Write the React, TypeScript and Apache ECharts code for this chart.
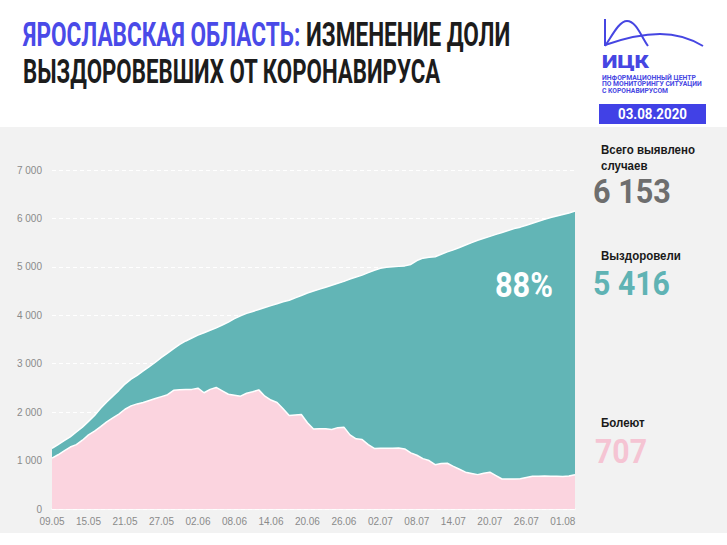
import React, { useEffect, useRef } from "react";
import * as echarts from "echarts";

const dates = [
  "09.05","10.05","11.05","12.05","13.05","14.05","15.05","16.05","17.05","18.05","19.05","20.05",
  "21.05","22.05","23.05","24.05","25.05","26.05","27.05","28.05","29.05","30.05","31.05",
  "01.06","02.06","03.06","04.06","05.06","06.06","07.06","08.06","09.06","10.06","11.06","12.06",
  "13.06","14.06","15.06","16.06","17.06","18.06","19.06","20.06","21.06","22.06","23.06","24.06",
  "25.06","26.06","27.06","28.06","29.06","30.06",
  "01.07","02.07","03.07","04.07","05.07","06.07","07.07","08.07","09.07","10.07","11.07","12.07",
  "13.07","14.07","15.07","16.07","17.07","18.07","19.07","20.07","21.07","22.07","23.07","24.07",
  "25.07","26.07","27.07","28.07","29.07","30.07","31.07",
  "01.08","02.08","03.08"
];

// Всего выявлено случаев (верхняя граница бирюзовой области)
const totalCases = [
  1250, 1330, 1410, 1490, 1590, 1690, 1810, 1930, 2080, 2210, 2330, 2450,
  2580, 2680, 2760, 2850, 2940, 3030, 3130, 3220, 3310, 3400, 3470, 3530,
  3590, 3640, 3690, 3740, 3800, 3860, 3930, 3990, 4040, 4080, 4120, 4160,
  4200, 4240, 4280, 4310, 4360, 4410, 4460, 4500, 4540, 4580, 4620, 4660,
  4700, 4750, 4790, 4830, 4880, 4930, 4970, 4990, 5000, 5010, 5020, 5050,
  5130, 5180, 5200, 5210, 5260, 5310, 5350, 5400, 5450, 5500, 5550, 5590,
  5630, 5670, 5710, 5750, 5790, 5820, 5860, 5900, 5940, 5980, 6020, 6050,
  6080, 6110, 6153
];

// Болеют (розовая область)
const activeCases = [
  1050, 1120, 1200, 1280, 1330, 1420, 1530, 1610, 1700, 1800, 1880, 1960,
  2060, 2130, 2170, 2200, 2240, 2280, 2320, 2360, 2450, 2460, 2465, 2470,
  2495, 2400, 2470, 2510, 2440, 2370, 2350, 2330, 2390, 2420, 2460, 2330,
  2250, 2200, 2070, 1930, 1940, 1950, 1780, 1650, 1655, 1655, 1640, 1680,
  1690, 1530, 1450, 1435, 1330, 1250, 1255, 1255, 1255, 1260, 1240, 1160,
  1110, 1040, 1000, 915, 940, 945, 880, 820, 760, 735, 710, 740,
  760, 690, 620, 620, 620, 625, 650, 675, 675, 680, 675, 675,
  670, 680, 707
];

const summaryLabels = ["Всего выявлено", "случаев", "Выздоровели", "Болеют"];
const summaryValues = ["6 153", "5 416", "707"];
const shareText = "88%";
const reportDate = "03.08.2020";

const TEAL = "#62b5b6";
const PINK = "#fbd4df";
const BLUE = "#4a4ae8";
const LOGO_BLUE = "#4646e2";
const BG = "#f2f2f2";

let measureCtx: CanvasRenderingContext2D | null = null;
function measure(text: string, size: number, weight: string, family: string) {
  if (!measureCtx) {
    const c = document.createElement("canvas");
    measureCtx = c.getContext("2d");
  }
  if (!measureCtx) return text.length * size * 0.6;
  measureCtx.font = `${weight} ${size}px ${family}`;
  return measureCtx.measureText(text).width;
}

function fitText(
  text: string,
  x: number,
  y: number,
  size: number,
  color: string,
  targetW: number,
  family = "Roboto",
  weight = "bold",
  align: "left" | "center" = "left",
  scaleOverride?: number
) {
  const w = measure(text, size, weight, family);
  const sx = scaleOverride ?? (w > 0 ? targetW / w : 1);
  return {
    type: "text",
    x,
    y,
    scaleX: sx,
    z: 100,
    silent: true,
    style: {
      text,
      fontSize: size,
      fontWeight: weight,
      fontFamily: family,
      fill: color,
      align,
      verticalAlign: "middle",
    },
  };
}

export default function App() {
  const ref = useRef<HTMLDivElement>(null);

  useEffect(() => {
    if (!ref.current) return;
    const chart = echarts.init(ref.current, null, { renderer: "svg" });

    const titleFamily = "Roboto";
    const titleSize = 33;
    const line1Plain = "ЯРОСЛАВСКАЯ ОБЛАСТЬ: ИЗМЕНЕНИЕ ДОЛИ";
    const line2 = "ВЫЗДОРОВЕВШИХ ОТ КОРОНАВИРУСА";
    const s1 = 487 / measure(line1Plain, titleSize, "bold", titleFamily);
    const s2 = 418 / measure(line2, titleSize, "bold", titleFamily);

    const labelFamily = "Liberation Sans";
    const labelScale = 94 / measure(summaryLabels[0], 13, "bold", labelFamily);
    const bigFamily = "Roboto";

    const graphic: any[] = [
      {
        type: "rect",
        z: -10,
        silent: true,
        shape: { x: 0, y: 127, width: 727, height: 406 },
        style: { fill: BG },
      },
      {
        type: "text",
        x: 23,
        y: 35,
        scaleX: s1,
        z: 100,
        silent: true,
        style: {
          text: "{a|ЯРОСЛАВСКАЯ ОБЛАСТЬ:} {b|ИЗМЕНЕНИЕ ДОЛИ}",
          fontSize: titleSize,
          fontWeight: "bold",
          fontFamily: titleFamily,
          fill: "#1c1c1c",
          align: "left",
          verticalAlign: "middle",
          rich: {
            a: { fill: BLUE, fontSize: titleSize, fontWeight: "bold", fontFamily: titleFamily },
            b: { fill: "#1c1c1c", fontSize: titleSize, fontWeight: "bold", fontFamily: titleFamily },
          },
        },
      },
      {
        type: "text",
        x: 23,
        y: 72,
        scaleX: s2,
        z: 100,
        silent: true,
        style: {
          text: line2,
          fontSize: titleSize,
          fontWeight: "bold",
          fontFamily: titleFamily,
          fill: "#1c1c1c",
          align: "left",
          verticalAlign: "middle",
        },
      },
      // logo lines
      {
        type: "line",
        silent: true,
        shape: { x1: 605, y1: 19, x2: 605, y2: 46 },
        style: { stroke: LOGO_BLUE, lineWidth: 2 },
      },
      {
        type: "bezierCurve",
        silent: true,
        shape: { x1: 605, y1: 46, cpx1: 612, cpy1: 36, cpx2: 619, cpy2: 21, x2: 627, y2: 21 },
        style: { stroke: LOGO_BLUE, lineWidth: 2, fill: "none" },
      },
      {
        type: "bezierCurve",
        silent: true,
        shape: { x1: 627, y1: 21, cpx1: 636, cpy1: 21, cpx2: 641, cpy2: 36, x2: 648, y2: 46 },
        style: { stroke: LOGO_BLUE, lineWidth: 2, fill: "none" },
      },
      {
        type: "bezierCurve",
        silent: true,
        shape: { x1: 605, y1: 45, cpx1: 625, cpy1: 38, cpx2: 645, cpy2: 34, x2: 660, y2: 34 },
        style: { stroke: LOGO_BLUE, lineWidth: 2, fill: "none" },
      },
      {
        type: "bezierCurve",
        silent: true,
        shape: { x1: 660, y1: 34, cpx1: 680, cpy1: 34, cpx2: 693, cpy2: 40, x2: 703, y2: 46 },
        style: { stroke: LOGO_BLUE, lineWidth: 2, fill: "none" },
      },
      fitText("ИЦК", 602, 62, 18, LOGO_BLUE, 47, "Roboto", "900"),
      fitText("ИНФОРМАЦИОННЫЙ ЦЕНТР", 602, 78, 6.5, LOGO_BLUE, 94, "Roboto", "bold"),
      fitText("ПО МОНИТОРИНГУ СИТУАЦИИ", 602, 84.5, 6.5, LOGO_BLUE, 100, "Roboto", "bold"),
      fitText("С КОРОНАВИРУСОМ", 602, 91, 6.5, LOGO_BLUE, 66, "Roboto", "bold"),
      {
        type: "rect",
        silent: true,
        shape: { x: 599, y: 104, width: 107, height: 20 },
        style: { fill: "#4141e6" },
      },
      fitText(reportDate, 652.5, 114, 14, "#ffffff", 69, "Roboto", "bold", "center"),
      // right summary
      fitText(summaryLabels[0], 601, 150, 13, "#1a1a1a", 94, labelFamily, "bold", "left", labelScale),
      fitText(summaryLabels[1], 601, 166, 13, "#1a1a1a", 0, labelFamily, "bold", "left", labelScale),
      fitText(summaryValues[0], 593, 192, 33, "#6e6e6e", 78, bigFamily, "bold"),
      fitText(summaryLabels[2], 601, 256, 13, "#1a1a1a", 0, labelFamily, "bold", "left", labelScale),
      fitText(summaryValues[1], 593, 284, 33, "#5fb3b4", 77, bigFamily, "bold"),
      fitText(summaryLabels[3], 601, 423, 13, "#1a1a1a", 0, labelFamily, "bold", "left", labelScale),
      fitText(summaryValues[2], 595, 452, 33, "#f5c4d3", 52, bigFamily, "bold"),
      fitText(shareText, 495, 285, 35, "#ffffff", 58, "Roboto", "bold"),
    ];

    const option: any = {
      animation: false,
      backgroundColor: "#ffffff",
      grid: { left: 52, right: 152, top: 170, bottom: 36, containLabel: false },
      xAxis: {
        type: "category",
        data: dates,
        boundaryGap: false,
        axisLine: { show: true, lineStyle: { color: "#ffffff", width: 1.5 } },
        axisTick: { show: true, inside: true, interval: 5, length: 4, lineStyle: { color: "#ffffff" } },
        axisLabel: {
          interval: 5,
          color: "#8a8a8a",
          fontSize: 10,
          fontFamily: "Liberation Sans",
          margin: 7,
        },
        splitLine: { show: false },
      },
      yAxis: {
        type: "value",
        min: 0,
        max: 7000,
        interval: 1000,
        axisLine: { show: false },
        axisTick: { show: false },
        axisLabel: {
          color: "#8a8a8a",
          fontSize: 10,
          fontFamily: "Liberation Sans",
          margin: 10,
          formatter: (v: number) => (v === 0 ? "0" : `${Math.floor(v / 1000)} 000`),
        },
        splitLine: { show: true, lineStyle: { color: "#ffffff", type: [4, 3], width: 1 } },
      },
      series: [
        {
          name: "Всего выявлено",
          type: "line",
          data: totalCases,
          showSymbol: false,
          symbol: "none",
          z: 2,
          lineStyle: { color: "#ffffff", width: 1.5 },
          areaStyle: { color: TEAL, opacity: 1 },
        },
        {
          name: "Болеют",
          type: "line",
          data: activeCases,
          showSymbol: false,
          symbol: "none",
          z: 3,
          lineStyle: { color: "#ffffff", width: 1.5 },
          areaStyle: { color: PINK, opacity: 1 },
        },
      ],
      graphic,
    };

    chart.setOption(option);
    return () => chart.dispose();
  }, []);

  return (
    <div
      ref={ref}
      style={{ position: "absolute", left: 0, top: 0, width: 727, height: 545 }}
    />
  );
}
